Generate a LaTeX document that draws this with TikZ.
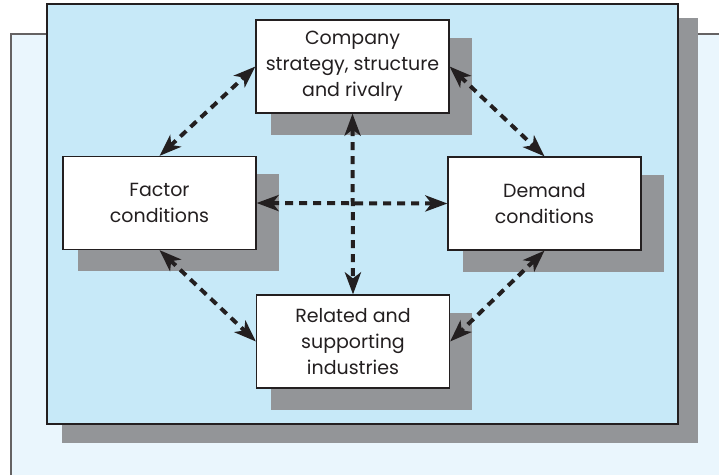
\documentclass[tikz,border=0pt]{standalone}
\usepackage{fontspec}
\setmainfont{Poppins}
\usetikzlibrary{arrows.meta}
\usetikzlibrary{shadows}
\definecolor{panelblue}{HTML}{C7E9F8}
\definecolor{panellight}{HTML}{EAF6FD}
\definecolor{shadowgray}{HTML}{939598}
\definecolor{inkdark}{HTML}{231F20}
\tikzset{
    force/.style={
        draw=inkdark, line width=1.2pt, fill=white,
        minimum width=193pt, minimum height=93pt,
        align=center, text=inkdark, font=\fontsize{19}{26}\selectfont,
        drop shadow={shadow xshift=18pt, shadow yshift=-19pt, shadow scale=1.04, opacity=1, fill=shadowgray}
    },
    link/.style={
        {Stealth[length=22pt, width=16pt, inset=6pt]}-{Stealth[length=22pt, width=16pt, inset=6pt]},
        line width=4pt, dash pattern=on 8pt off 6pt, draw=inkdark
    }
}

\begin{document}
\begin{tikzpicture}[x=1pt, y=-1pt]
    \useasboundingbox (0,0) rectangle (719,475);

    \fill[panellight] (11,34) rectangle (719,475);
    \draw[inkdark!70, line width=1.5pt] (11,475) -- (11,34) -- (719,34);

    \fill[shadowgray] (62,18) rectangle (698,443);
    \draw[draw=inkdark, fill=panelblue, line width=1.2pt] (47,4) rectangle (678,424);

    \node[force] (COMPANY) at (352.5, 66.5) {Company\\strategy, structure\\and rivalry};
    \node[force] (FACTOR) at (159.5, 203) {Factor\\conditions};
    \node[force] (DEMAND) at (544.5, 203.5) {Demand\\conditions};
    \node[force] (RELATED) at (353, 341.5) {Related and\\supporting\\industries};

    \draw[link] (FACTOR.north) -- (COMPANY.west);
    \draw[link] (COMPANY.east) -- (DEMAND.north);
    \draw[link] (FACTOR.south) -- (RELATED.west);
    \draw[link] (DEMAND.south) -- (RELATED.east);

    \draw[link] (COMPANY.south) -- (RELATED.north);
    \draw[link] (FACTOR.east) -- (DEMAND.west);
\end{tikzpicture}
\end{document}
